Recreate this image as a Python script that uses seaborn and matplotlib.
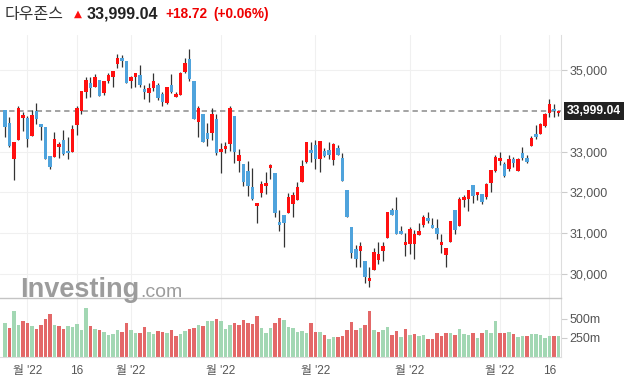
import matplotlib
matplotlib.use('Agg')
import matplotlib.pyplot as plt
import numpy as np
import pandas as pd
import seaborn as sns

# Dow Jones daily candles, 22 Feb - 18 Aug 2022
holidays = ['2022-04-15', '2022-05-30', '2022-06-20', '2022-07-04']
dates = pd.bdate_range('2022-02-22', '2022-08-18', freq='C', holidays=holidays)
mid_month_ticks = ['2022-03-16', '2022-08-16']

opens = [34020, 33709, 32827, 33285, 33831, 33824, 33390, 34003, 33677, 33596,
         32893, 32876, 33121, 33285, 33015, 32998, 33652, 33995, 34468, 34689,
         34591, 34755, 34429, 34723, 34836, 35140, 35287, 35213, 34738, 34821,
         34877, 34527, 34444, 34566, 34632, 34412, 34184, 34632, 34346, 34395,
         34958, 35262, 34730, 33733, 33922, 33456, 33449, 33799, 32998, 33072,
         33180, 33873, 32778, 32697, 32533, 32126, 31668, 31994, 32158, 32606,
         32484, 31276, 31440, 31504, 31717, 31815, 32263, 32753, 33040, 33170,
         32827, 33023, 33040, 32802, 33082, 32837, 32060, 31153, 30607, 30573,
         30320, 29838, 30093, 30345, 30565, 30891, 31570, 31570, 31055, 30712,
         30730, 30737, 30957, 31202, 31367, 31202, 31122, 30720, 30467, 30793,
         31570, 31185, 31815, 31839, 32182, 31945, 31962, 31881, 32224, 32533,
         32763, 32697, 32567, 32812, 32533, 32959, 32837, 33138, 33432, 33432,
         33628, 33939, 34037, 33954]
highs = [34020, 33841, 33243, 34118, 33978, 33873, 34020, 34199, 33677, 33596,
         32893, 33474, 33243, 33530, 33366, 33652, 34118, 34485, 34821, 34821,
         34902, 34755, 34723, 34934, 34968, 35385, 35367, 35213, 34853, 34934,
         35122, 34632, 34689, 34919, 34689, 34468, 34591, 34895, 34468, 34958,
         35287, 35507, 34730, 34118, 33922, 33694, 34062, 33922, 33219, 33243,
         34118, 33873, 33057, 32697, 32770, 32592, 31734, 32280, 32508, 32697,
         32484, 31570, 31440, 31979, 32018, 32263, 32795, 33236, 33243, 33285,
         33260, 33082, 33229, 33204, 33162, 32959, 32060, 31153, 30705, 30793,
         30320, 30166, 30646, 30786, 30793, 31521, 31612, 31896, 31178, 30999,
         31161, 31080, 31259, 31455, 31528, 31367, 31342, 30975, 30646, 31300,
         31570, 31896, 31937, 32060, 32182, 32018, 31962, 32224, 32550, 32905,
         32984, 32753, 32917, 32861, 32837, 33106, 32917, 33383, 33652, 33694,
         33939, 34282, 34167, 34020]
lows = [33366, 33106, 32305, 33285, 33513, 33121, 33390, 33677, 33285, 32812,
        32582, 32876, 32837, 32917, 32827, 32998, 33407, 33922, 34307, 34346,
        34591, 34370, 34380, 34689, 34591, 35042, 35081, 34689, 34552, 34591,
        34591, 34282, 34216, 34485, 34265, 34118, 34167, 34429, 34346, 34395,
        34934, 34738, 33799, 33351, 33243, 33131, 33285, 32917, 32469, 32959,
        33023, 32714, 32508, 32158, 31913, 31815, 31244, 31881, 31955, 32322,
        31406, 31063, 30656, 31504, 31391, 31815, 32263, 32714, 32753, 32582,
        32508, 32861, 32827, 32665, 32917, 32288, 31406, 30387, 30166, 30166,
        29774, 29676, 30093, 30247, 30320, 30891, 31447, 30975, 30989, 30443,
        30492, 30377, 30957, 31161, 31244, 31136, 30867, 30524, 30166, 30793,
        30982, 31185, 31651, 31553, 31734, 31815, 31710, 31839, 32011, 32501,
        32672, 32386, 32533, 32631, 32518, 32795, 32714, 33138, 33309, 33432,
        33596, 33856, 33841, 33873]
closes = [33611, 33138, 33243, 34069, 33897, 33302, 33897, 33807, 33611, 32827,
          32631, 33309, 33187, 32942, 32959, 33547, 34062, 34485, 34755, 34566,
          34821, 34370, 34723, 34877, 34968, 35287, 35228, 34689, 34821, 34919,
          34632, 34461, 34566, 34723, 34307, 34216, 34576, 34468, 34412, 34934,
          35164, 34772, 33799, 34062, 33243, 33309, 33922, 32974, 33057, 33138,
          34062, 32998, 32917, 32263, 32158, 31839, 31734, 32207, 32239, 32672,
          31504, 31210, 31259, 31881, 31937, 32141, 32648, 33236, 32974, 32827,
          33260, 32900, 32917, 33187, 32917, 32288, 31406, 30524, 30369, 30688,
          29936, 29904, 30541, 30492, 30695, 31521, 31447, 30975, 30989, 30793,
          31104, 30982, 31063, 31398, 31308, 31136, 30982, 30786, 30646, 31300,
          31080, 31839, 31881, 32060, 31920, 32011, 31773, 32207, 32550, 32861,
          32837, 32403, 32819, 32729, 32812, 32837, 32753, 33330, 33350, 33677,
          33922, 34167, 33995, 33999.04]
volume_m = [447, 382, 596, 421, 465, 447, 408, 368, 421, 500,
            553, 421, 408, 368, 408, 395, 434, 346, 632, 408,
            368, 355, 329, 290, 303, 355, 329, 447, 355, 316,
            316, 395, 329, 293, 342, 329, 316, 355, 276, 293,
            342, 368, 382, 421, 408, 465, 465, 500, 465, 368,
            421, 447, 421, 478, 447, 434, 530, 382, 316, 382,
            447, 513, 487, 395, 382, 329, 342, 316, 447, 329,
            329, 290, 237, 263, 263, 276, 355, 461, 355, 382,
            421, 596, 355, 329, 355, 395, 290, 342, 263, 368,
            290, 303, 276, 290, 237, 237, 316, 276, 316, 316,
            290, 368, 303, 290, 316, 250, 316, 355, 316, 465,
            316, 316, 329, 303, 263, 276, 276, 303, 303, 290,
            250, 276, 276, 276]

name = '다우존스'
last_close = 33999.04
change = 18.72
change_pct = 0.06

price_ticks = [30000, 31000, 32000, 33000, 35000]
volume_ticks = [250, 500]

sns.set_theme(style='white')
plt.rcParams['font.family'] = ['Liberation Sans', 'Noto Sans CJK KR', 'DejaVu Sans']

x = np.arange(len(dates))
o = np.array(opens, dtype=float)
h = np.array(highs, dtype=float)
l = np.array(lows, dtype=float)
c = np.array(closes, dtype=float)
candle_up = c >= o
vol_up = np.r_[True, c[1:] >= c[:-1]]

RED, BLUE = '#ff1010', '#4fa3dc'
W = 624
H = 383
fig = plt.figure(figsize=(W / 100, H / 100), dpi=100)
ax = fig.add_axes([0, 1 - 298 / H, 561 / W, 263 / H])
axv = fig.add_axes([0, 1 - 357 / H, 561 / W, 59 / H], sharex=ax)

# candles
ax.vlines(x, l, h, color='#333333', lw=0.9, zorder=2)
body = np.maximum(np.abs(c - o), 25)
ax.bar(x, body, bottom=np.minimum(o, c), width=0.7,
       color=np.where(candle_up, RED, BLUE), zorder=3, linewidth=0)
ax.axhline(last_close, color='#8a8a8a', lw=1.1, dashes=(3.5, 2.5), zorder=1)

# volume
vol_df = pd.DataFrame({'x': x, 'vol': volume_m,
                       'dir': np.where(vol_up, 'up', 'down')})
sns.barplot(data=vol_df, x='x', y='vol', hue='dir', native_scale=True,
            palette={'up': '#a2d7b3', 'down': '#e36868'}, width=0.75,
            dodge=False, saturation=1, errorbar=None, legend=False,
            linewidth=0, ax=axv)

# axes styling
ax.set_xlim(-1.11, 123.56)
ax.set_ylim(29414, 35857)
axv.set_ylim(0, 767)

month_starts = dates.to_series().groupby(dates.to_period('M')).first()
month_starts = month_starts[month_starts.dt.month > 2]
tick_dates = sorted(list(month_starts) + list(pd.to_datetime(mid_month_ticks)))
tick_pos = [dates.get_loc(d) for d in tick_dates]
tick_lab = ['16' if d.day == 16 else "월 '22" for d in tick_dates]

axv.set_xticks(tick_pos)
axv.set_xticklabels(tick_lab)
plt.setp(ax.get_xticklabels(), visible=False)
ax.tick_params(axis='x', length=0)

ax.yaxis.tick_right()
ax.set_yticks(price_ticks)
ax.set_yticklabels([f'{t:,}' for t in price_ticks])
axv.yaxis.tick_right()
axv.set_yticks(volume_ticks)
axv.set_yticklabels([f'{t}m' for t in volume_ticks])
axv.set_xlabel('')
axv.set_ylabel('')

for a in (ax, axv):
    a.tick_params(axis='y', length=4, width=0.8, color='#cccccc',
                  labelcolor='#555555', labelsize=9, pad=2)
    a.grid(True, axis='x', color='#f0f0f0', lw=0.8)
    a.set_axisbelow(True)
    for s in a.spines.values():
        s.set_color('#dddddd')
        s.set_linewidth(0.8)
    a.spines['left'].set_visible(False)
ax.grid(True, axis='y', color='#f0f0f0', lw=0.8)
ax.spines['top'].set_visible(False)
ax.spines['bottom'].set_visible(False)
axv.spines['top'].set_color('#c4c4c4')
axv.spines['top'].set_linewidth(1.0)
axv.tick_params(axis='x', length=3, width=0.8, color='#cccccc',
                labelcolor='#555555', labelsize=8.5, pad=3)

# last price tag
ax.annotate(f'{last_close:,.2f}', xy=(1, last_close),
            xycoords=('axes fraction', 'data'), xytext=(4.5, 0),
            textcoords='offset points', ha='left', va='center',
            color='white', fontweight='bold', fontsize=8.7,
            bbox=dict(boxstyle='square,pad=0.25', fc='#222222', ec='none'))

# header
yh = 1 - 14 / H
fig.text(5 / W, yh, name, fontsize=11.5, color='#333333', va='center',
         family=['Noto Sans CJK KR', 'DejaVu Sans'])
fig.text(74 / W, yh, '▲', fontsize=7.5, color=RED, va='center',
         family='DejaVu Sans')
fig.text(87 / W, yh, f'{last_close:,.2f}', fontsize=11.5, fontweight='bold',
         color='#222222', va='center')
fig.text(165 / W, yh, f'+{change:.2f}', fontsize=9.8, fontweight='bold',
         color='#ee0000', va='center')
fig.text(213 / W, yh, f'(+{change_pct:.2f}%)', fontsize=9.8,
         fontweight='bold', color='#ee0000', va='center')

# watermark
yb = 1 - 297 / H
fig.text(20 / W, yb, 'Investing', fontsize=19.5, fontweight='bold',
         color='#9c9c9c', va='baseline')
fig.text(140 / W, yb, '.com', fontsize=14, color='#9c9c9c', va='baseline')

fig.savefig('out.png', dpi=100)
